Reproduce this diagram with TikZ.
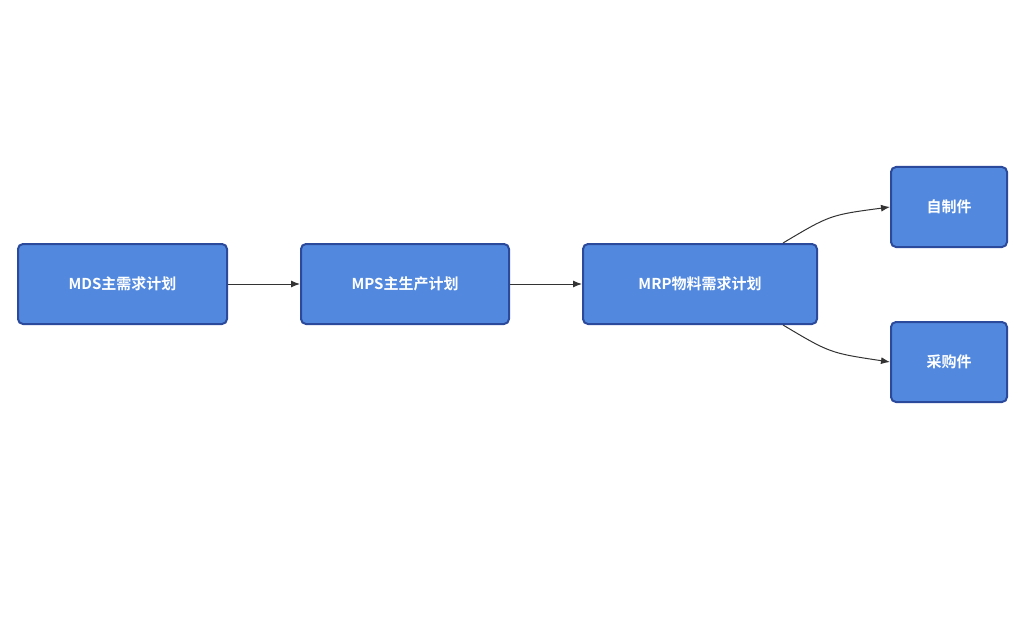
\documentclass[tikz,border=0pt]{standalone}
\usepackage{fontspec}
\setmainfont{Noto Sans CJK SC}[BoldFont={* Bold}]
\usetikzlibrary{arrows.meta,positioning}
\definecolor{boxfill}{HTML}{5289DF}
\definecolor{boxline}{HTML}{2C4A9C}
\tikzset{
  planbox/.style={draw=boxline, line width=2pt, fill=boxfill, rounded corners=5pt,
    text=white, font=\bfseries\fontsize{15}{18}\selectfont, minimum height=80pt, inner sep=0pt},
  link/.style={draw=black!80, line width=1pt, -{Latex[length=9pt,width=7pt]}}
}
\begin{document}
\begin{tikzpicture}[x=1pt,y=-1pt]
  \useasboundingbox (0,0) rectangle (1024,628);
  \node (mds) [planbox, minimum width=209pt] at (122.5,284) {MDS主需求计划};
  \node (mps) [planbox, minimum width=208pt] at (405,284) {MPS主生产计划};
  \node (mrp) [planbox, minimum width=234pt] at (700,284) {MRP物料需求计划};
  \node (self) [planbox, minimum width=116pt] at (949,207) {自制件};
  \node (buy) [planbox, minimum width=116pt] at (949,362) {采购件};
  \draw [link] (mds) -- (mps);
  \draw [link] (mps) -- (mrp);
  \draw [link] ([xshift=83pt]mrp.north) .. controls (830,215) .. (self.west);
  \draw [link] ([xshift=83pt]mrp.south) .. controls (830,353) .. (buy.west);
\end{tikzpicture}
\end{document}
